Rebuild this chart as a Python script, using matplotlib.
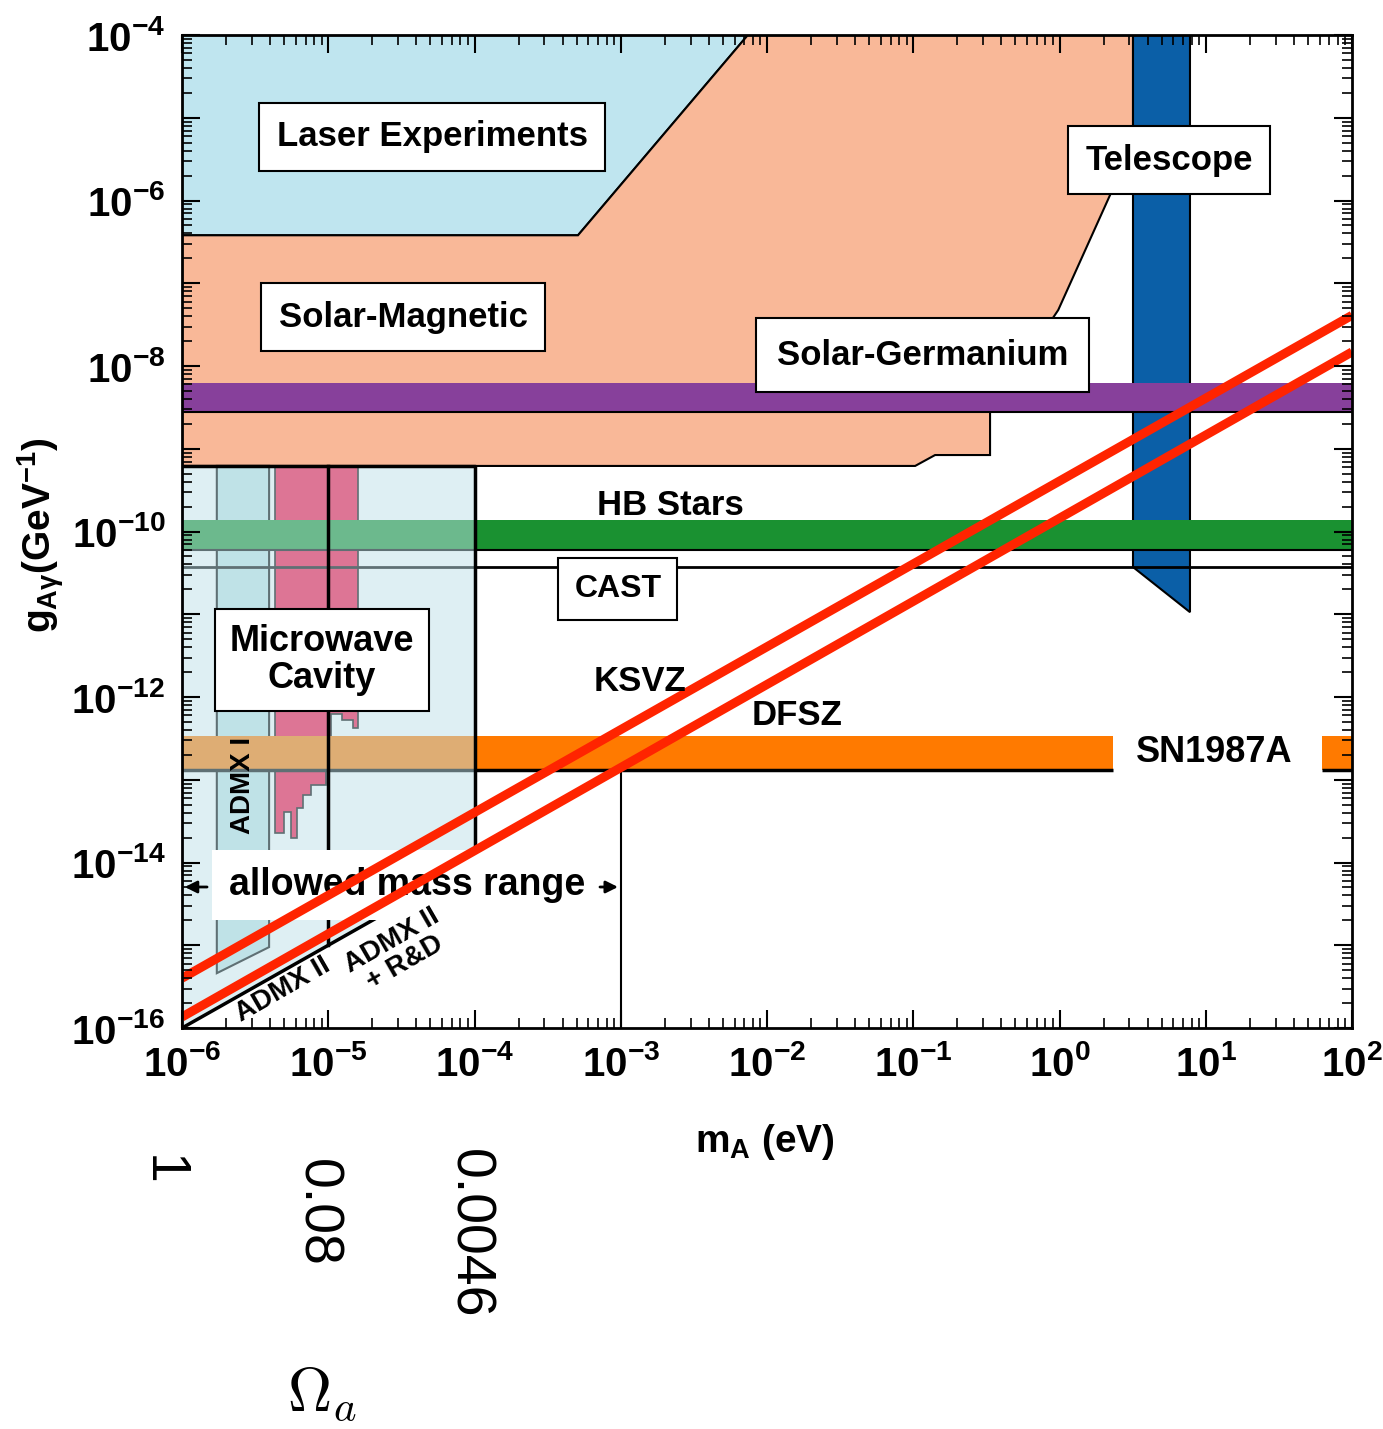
import numpy as np
import matplotlib
matplotlib.use("Agg")
import matplotlib.pyplot as plt
from matplotlib.ticker import FixedLocator, LogLocator, FuncFormatter, NullFormatter

plt.rcParams["font.family"] = ["Liberation Sans", "DejaVu Sans"]
plt.rcParams["font.weight"] = "bold"
plt.rcParams["axes.labelweight"] = "bold"
plt.rcParams["mathtext.fontset"] = "custom"
plt.rcParams["mathtext.rm"] = "Liberation Sans:bold"
plt.rcParams["mathtext.it"] = "Liberation Sans:bold"
plt.rcParams["mathtext.bf"] = "Liberation Sans:bold"

# axion mass m_A (eV) and coupling g_Agamma (GeV^-1)
laser_m = [1e-6, 7.4e-3, 5.1e-4, 1e-6]
laser_g = [1e-4, 1e-4, 3.8e-7, 3.8e-7]

solar_m = [1e-6, 5.1e-4, 7.4e-3, 3.18, 3.18, 0.98, 0.335, 0.335, 0.141, 0.103, 1e-6]
solar_g = [3.8e-7, 3.8e-7, 1e-4, 1e-4, 4.8e-6, 4.75e-8, 2.8e-9, 8.4e-10, 8.4e-10, 6.2e-10, 6.2e-10]

telescope_m = [3.18, 7.8, 7.8, 3.18]
telescope_g = [1e-4, 1e-4, 1.06e-11, 3.72e-11]

germanium_band = [2.78e-9, 6.24e-9]
hb_band = [5.97e-11, 1.38e-10]
cast_limit = 3.72e-11
sn_band = [1.31e-13, 3.38e-13]
sn_left_m = [1e-6, 2.32]
sn_right_m = [62.4, 1e2]

cavity_m = [1e-6, 1e-4, 1e-4, 1e-6]
cavity_g = [6.2e-10, 6.2e-10, 1e-14, 1e-16]
cavity_edge_m = [1e-6, 1e-4, 1e-4]
cavity_edge_g = [6.2e-10, 6.2e-10, 1e-14]
split_m = [1e-5, 1e-5]
split_g = [6.2e-10, 1e-15]

admx1_m = [1.73e-6, 3.94e-6, 3.94e-6, 1.73e-6]
admx1_g = [6.2e-10, 6.2e-10, 9.5e-16, 4.6e-16]

admx2_m = [1e-6, 2.45e-5]
admx2_g = [1e-16, 2.45e-15]

excl_m = [4.33e-6, 1.6e-5, 1.6e-5, 1.48e-5, 1.48e-5, 1.24e-5, 1.24e-5, 1.04e-5, 1.04e-5,
          9.7e-6, 9.7e-6, 7.6e-6, 7.6e-6, 6.7e-6, 6.7e-6, 6.1e-6, 6.1e-6, 5.55e-6, 5.55e-6,
          4.98e-6, 4.98e-6, 4.33e-6]
excl_g = [6.2e-10, 6.2e-10, 4.2e-13, 4.2e-13, 5.3e-13, 5.3e-13, 6.2e-13, 6.2e-13, 2.0e-13,
          2.0e-13, 8.6e-14, 8.6e-14, 6.5e-14, 6.5e-14, 4.6e-14, 4.6e-14, 2.0e-14, 2.0e-14,
          4.1e-14, 4.1e-14, 2.3e-14, 2.3e-14]

bound_m = [1e-3, 1e-3]
bound_g = [1.27e-13, 1e-16]

ksvz_m = [1e-6, 1e2]
ksvz_g = [4.0e-16, 4.1e-8]
dfsz_m = [1e-6, 1e2]
dfsz_g = [1.36e-16, 1.48e-8]

arrow_g = 5.06e-15
arrow_left_m = [1.55e-6, 1e-6]
arrow_right_m = [6.9e-4, 1e-3]

omega_labels = ["1", "0.08", "0.0046"]

LASER = "#bfe5ef"
SALMON = "#f9b898"
PURPLE = "#87409b"
GREEN = "#1a9131"
BLUE = "#0b5fa7"
ORANGE = "#ff7a00"
RED = "#ff2400"

fig = plt.figure(figsize=(13.83, 14.29), dpi=100)
ax = fig.add_axes([0.1316, 0.2806, 0.846, 0.6949])
ax.set_xscale("log")
ax.set_yscale("log")

ax.fill(laser_m, laser_g, fc=LASER, ec="black", lw=1.5, zorder=1)
ax.fill(solar_m, solar_g, fc=SALMON, ec="black", lw=1.5, zorder=1)
ax.fill(excl_m, excl_g, fc="#fd0941", ec="black", lw=1.2, zorder=1.2)
ax.fill(admx1_m, admx1_g, fc="#c1e5e5", ec="black", lw=1.5, zorder=1.2)
ax.fill(telescope_m, telescope_g, fc=BLUE, ec="black", lw=1.5, zorder=1.5)

ax.axhspan(germanium_band[0], germanium_band[1], fc=PURPLE, ec="none", zorder=2)
ax.axhline(germanium_band[0], color="black", lw=1.5, zorder=2)
ax.axhspan(hb_band[0], hb_band[1], fc=GREEN, ec="none", zorder=2)
ax.axhline(hb_band[0], color="black", lw=1.5, zorder=2)
ax.axhline(cast_limit, color="black", lw=2, zorder=2)
ax.fill_between(sn_left_m, sn_band[0], sn_band[1], fc=ORANGE, ec="none", zorder=2)
ax.fill_between(sn_right_m, sn_band[0], sn_band[1], fc=ORANGE, ec="none", zorder=2)
ax.hlines(sn_band[0], sn_left_m[0], sn_left_m[1], color="black", lw=2.5, zorder=2)
ax.hlines(sn_band[0], sn_right_m[0], sn_right_m[1], color="black", lw=2.5, zorder=2)

# microwave cavity region is a half-transparent wash over everything below it
ax.fill(cavity_m, cavity_g, fc="#bfe1e9", alpha=0.5, ec="none", zorder=3)
ax.plot(cavity_edge_m, cavity_edge_g, color="black", lw=2.5, zorder=4)
ax.plot(split_m, split_g, color="black", lw=2.5, zorder=4)
ax.plot(admx2_m, admx2_g, color="black", lw=2.5, zorder=4)
ax.plot(bound_m, bound_g, color="black", lw=1.5, zorder=4)

ax.plot(ksvz_m, ksvz_g, color=RED, lw=6.5, solid_capstyle="butt", zorder=6)
ax.plot(dfsz_m, dfsz_g, color=RED, lw=6.5, solid_capstyle="butt", zorder=6)

ax.set_xlim(1e-6, 1e2)
ax.set_ylim(1e-16, 1e-4)

box = dict(boxstyle="square,pad=0.5", fc="white", ec="black", lw=1.5)
fs = 25
ax.text(0.2137, 0.8973, "Laser Experiments", transform=ax.transAxes, ha="center", va="center",
        fontsize=fs, bbox=box, zorder=7)
ax.text(0.1889, 0.7160, "Solar-Magnetic", transform=ax.transAxes, ha="center", va="center",
        fontsize=fs, bbox=box, zorder=7)
ax.text(0.6333, 0.6777, "Solar-Germanium", transform=ax.transAxes, ha="center", va="center",
        fontsize=fs, bbox=dict(boxstyle="square,pad=0.6", fc="white", ec="black", lw=1.5),
        zorder=7)
ax.text(0.8436, 0.8741, "Telescope", transform=ax.transAxes, ha="center", va="center",
        fontsize=fs, bbox=box, zorder=7)
ax.text(0.3726, 0.4421, "CAST", transform=ax.transAxes, ha="center", va="center",
        fontsize=23, bbox=box, zorder=7)
ax.text(0.1197, 0.3706, "Microwave\nCavity", transform=ax.transAxes, ha="center", va="center",
        fontsize=26, linespacing=1.1,
        bbox=dict(boxstyle="square,pad=0.4", fc="white", ec="black", lw=1.5), zorder=7)
ax.text(0.4171, 0.5267, "HB Stars", transform=ax.transAxes, ha="center", va="center",
        fontsize=fs, zorder=7)
ax.text(0.3915, 0.3494, "KSVZ", transform=ax.transAxes, ha="center", va="center",
        fontsize=fs, zorder=7)
ax.text(0.5256, 0.3152, "DFSZ", transform=ax.transAxes, ha="center", va="center",
        fontsize=fs, zorder=7)
ax.text(0.8821, 0.2779, "SN1987A", transform=ax.transAxes, ha="center", va="center",
        fontsize=26, zorder=7)
ax.text(0.0521, 0.2447, "ADMX I", transform=ax.transAxes, ha="center", va="center",
        fontsize=20, rotation=90, zorder=7)
ax.text(0.0863, 0.0383, "ADMX II", transform=ax.transAxes, ha="center", va="center",
        fontsize=20, rotation=30, zorder=7)
ax.text(0.1846, 0.0765, "ADMX II\n+ R&D", transform=ax.transAxes, ha="center", va="center",
        fontsize=20, rotation=30, linespacing=1.0, zorder=7)
ax.text(0.1923, 0.1440, "allowed mass range", transform=ax.transAxes, ha="center", va="center",
        fontsize=27, bbox=dict(boxstyle="square,pad=0.45", fc="white", ec="none"), zorder=5)
ax.annotate("", xy=(arrow_left_m[1], arrow_g), xytext=(arrow_left_m[0], arrow_g),
            arrowprops=dict(arrowstyle="-|>", color="black", lw=2, mutation_scale=18), zorder=5)
ax.annotate("", xy=(arrow_right_m[1], arrow_g), xytext=(arrow_right_m[0], arrow_g),
            arrowprops=dict(arrowstyle="-|>", color="black", lw=2, mutation_scale=18), zorder=5)

# ticks: every decade, labels only where the original has them
def make_fmt(step):
    def fmt(v, pos):
        k = int(round(np.log10(v)))
        if k % step:
            return ""
        return r"$\mathbf{10^{%d}}$" % k
    return FuncFormatter(fmt)

ax.xaxis.set_major_locator(FixedLocator([10.0 ** k for k in range(-6, 3)]))
ax.yaxis.set_major_locator(FixedLocator([10.0 ** k for k in range(-16, -3)]))
ax.xaxis.set_major_formatter(make_fmt(1))
ax.yaxis.set_major_formatter(make_fmt(2))
for a in (ax.xaxis, ax.yaxis):
    a.set_minor_locator(LogLocator(base=10, subs=np.arange(2, 10), numticks=100))
    a.set_minor_formatter(NullFormatter())
    a.set_zorder(10)
ax.tick_params(which="both", direction="in", top=True, right=True)
ax.tick_params(which="major", length=13, width=1.5, labelsize=29, pad=12)
ax.tick_params(which="minor", length=7, width=1.2)
for s in ax.spines.values():
    s.set_linewidth(2)
    s.set_zorder(10)

ax.set_xlabel(r"$m_A$ (eV)", fontsize=28)
ax.set_ylabel(r"$g_{A\gamma}$(GeV$^{-1}$)", fontsize=28)
ax.xaxis.set_label_coords(0.498, -0.0947)
ax.yaxis.set_label_coords(-0.099, 0.4965)

# Omega_a values under the mass axis
omega_x = [-0.0175, 0.1145, 0.2445]
omega_y = [-0.128, -0.132, -0.122]
for xx, yy, lab in zip(omega_x, omega_y, omega_labels):
    ax.text(xx, yy, lab, transform=ax.transAxes, rotation=270, ha="center", va="top",
            fontsize=40, fontweight="normal", fontfamily="Liberation Sans")
ax.text(0.1197, -0.3696, r"$\Omega_a$", transform=ax.transAxes, ha="center", va="center",
        fontsize=44, math_fontfamily="cm")

fig.savefig("out.png", dpi=100)
